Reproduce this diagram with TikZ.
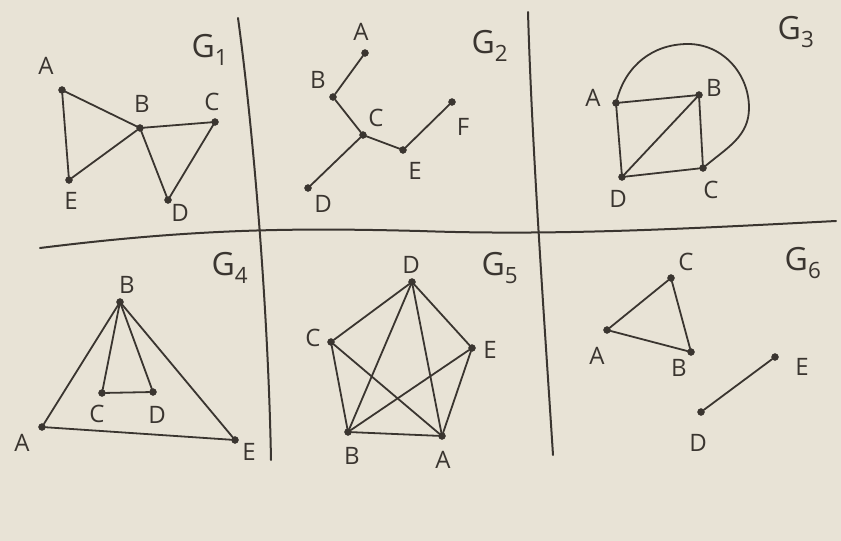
\documentclass[tikz,border=0pt]{standalone}
\usepackage{fontspec}
\setmainfont{Open Sans}
\definecolor{paper}{RGB}{232,227,214}
\definecolor{ink}{RGB}{58,53,48}
\tikzset{
  vtx/.style={circle, fill=ink, draw=ink, inner sep=0pt, minimum size=7pt},
  lbl/.style={text=ink, font=\fontsize{24}{28}\selectfont, inner sep=0pt},
  gname/.style={text=ink, font=\fontsize{32}{36}\selectfont, inner sep=0pt},
  edge/.style={draw=ink, line width=1.8pt, line cap=round},
  rule/.style={draw=ink, line width=2pt, line cap=round}
}
\newcommand{\gsub}[1]{G\textsubscript{#1}}
\begin{document}
\begin{tikzpicture}[x=1pt, y=-1pt]
    % paper
    \fill[paper] (0,0) rectangle (841,541);
    \useasboundingbox (0,0) rectangle (841,541);

    % dividing lines
    \draw[rule] (238,18) .. controls (252,120) and (268,300) .. (271,460);
    \draw[rule] (528,12) .. controls (532,150) and (545,330) .. (553,455);
    \draw[rule] (40,248) .. controls (200,228) and (300,228) .. (420,231)
                        .. controls (560,236) and (700,228) .. (836,221);

    % G1
    \node[gname] (g1name) at (210,50) {\gsub{1}};
    \node[vtx] (g1a) at (62,90) {};
    \node[vtx] (g1b) at (140,128) {};
    \node[vtx] (g1c) at (215,122) {};
    \node[vtx] (g1d) at (168,200) {};
    \node[vtx] (g1e) at (69,180) {};
    \node[lbl] at (46,66) {A};
    \node[lbl] at (142,104) {B};
    \node[lbl] at (212,102) {C};
    \node[lbl] at (180,213) {D};
    \node[lbl] at (71,201) {E};
    \draw[edge] (g1a) -- (g1b) -- (g1c) -- (g1d) -- (g1b) -- (g1e) -- (g1a);

    % G2
    \node[gname] (g2name) at (490,46) {\gsub{2}};
    \node[vtx] (g2a) at (365,53) {};
    \node[vtx] (g2b) at (333,97) {};
    \node[vtx] (g2c) at (363,135) {};
    \node[vtx] (g2d) at (308,188) {};
    \node[vtx] (g2e) at (403,150) {};
    \node[vtx] (g2f) at (452,102) {};
    \node[lbl] at (361,32) {A};
    \node[lbl] at (318,80) {B};
    \node[lbl] at (376,118) {C};
    \node[lbl] at (323,204) {D};
    \node[lbl] at (415,171) {E};
    \node[lbl] at (463,127) {F};
    \draw[edge] (g2a) -- (g2b) -- (g2c) -- (g2d);
    \draw[edge] (g2c) -- (g2e) -- (g2f);

    % G3
    \node[gname] (g3name) at (796,32) {\gsub{3}};
    \node[vtx] (g3a) at (616,103) {};
    \node[vtx] (g3b) at (699,95) {};
    \node[vtx] (g3c) at (703,168) {};
    \node[vtx] (g3d) at (622,177) {};
    \node[lbl] at (593,98) {A};
    \node[lbl] at (714,88) {B};
    \node[lbl] at (711,190) {C};
    \node[lbl] at (618,199) {D};
    \coordinate (g3top) at (688,44);
    \coordinate (g3right) at (749,108);
    \draw[edge] (g3a) -- (g3b) -- (g3c) -- (g3d) -- (g3a);
    \draw[edge] (g3d) -- (g3b);
    \draw[edge] (g3a) to[out=75,in=180] (g3top) to[out=0,in=90] (g3right)
                      to[out=-90,in=40] (g3c);

    % G4
    \node[gname] (g4name) at (230,268) {\gsub{4}};
    \node[vtx] (g4a) at (42,427) {};
    \node[vtx] (g4b) at (120,302) {};
    \node[vtx] (g4c) at (102,393) {};
    \node[vtx] (g4d) at (153,392) {};
    \node[vtx] (g4e) at (235,440) {};
    \node[lbl] at (22,443) {A};
    \node[lbl] at (127,285) {B};
    \node[lbl] at (97,414) {C};
    \node[lbl] at (157,415) {D};
    \node[lbl] at (249,452) {E};
    \draw[edge] (g4a) -- (g4b) -- (g4e) -- (g4a);
    \draw[edge] (g4c) -- (g4b) -- (g4d) -- (g4c);

    % G5
    \node[gname] (g5name) at (500,268) {\gsub{5}};
    \node[vtx] (g5a) at (442,436) {};
    \node[vtx] (g5b) at (348,432) {};
    \node[vtx] (g5c) at (331,342) {};
    \node[vtx] (g5d) at (412,282) {};
    \node[vtx] (g5e) at (472,348) {};
    \node[lbl] at (443,460) {A};
    \node[lbl] at (352,456) {B};
    \node[lbl] at (313,338) {C};
    \node[lbl] at (411,265) {D};
    \node[lbl] at (490,350) {E};
    \foreach \u/\v in {a/b,a/c,a/d,a/e,b/c,b/d,b/e,c/d,d/e}
      \draw[edge] (g5\u) -- (g5\v);

    % G6
    \node[gname] (g6name) at (803,263) {\gsub{6}};
    \node[vtx] (g6a) at (607,330) {};
    \node[vtx] (g6b) at (691,352) {};
    \node[vtx] (g6c) at (671,278) {};
    \node[vtx] (g6d) at (701,412) {};
    \node[vtx] (g6e) at (775,357) {};
    \node[lbl] at (597,356) {A};
    \node[lbl] at (679,368) {B};
    \node[lbl] at (686,262) {C};
    \node[lbl] at (698,443) {D};
    \node[lbl] at (802,367) {E};
    \draw[edge] (g6a) -- (g6c) -- (g6b) -- (g6a);
    \draw[edge] (g6d) -- (g6e);

  \end{tikzpicture}
\end{document}
